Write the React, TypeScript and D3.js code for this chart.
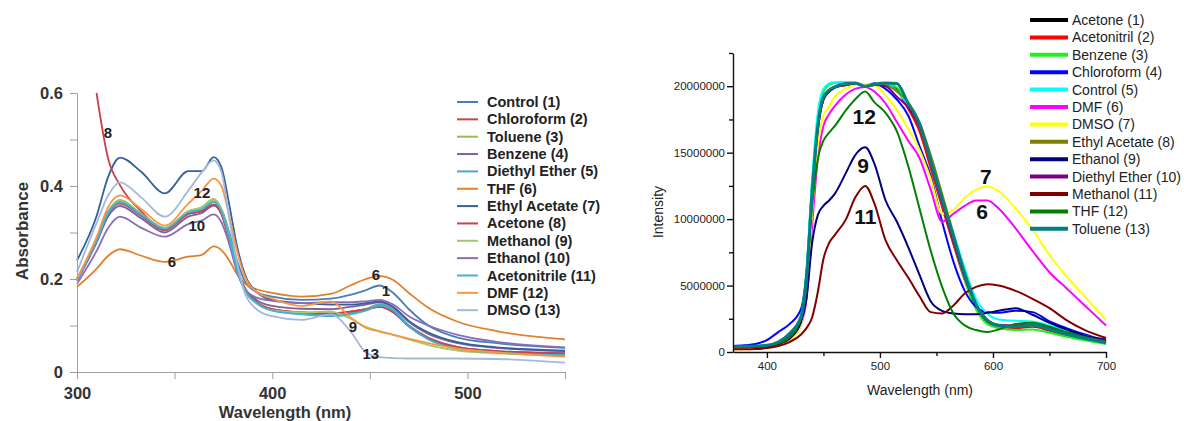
import React, { useEffect, useRef } from "react";
import * as d3 from "d3";

const FONT = "'Liberation Sans', Arial, sans-serif";

// ---------- left panel: absorbance spectra ----------
const ABS_WL = [300, 310, 316, 322, 333, 345, 357, 364, 370, 374, 378, 382, 386, 392, 400, 415, 430, 440, 448, 455, 462, 470, 480, 495, 515, 550];

const ABS_NAMES = ["Control (1)", "Chloroform (2)", "Toluene (3)", "Benzene (4)", "Diethyl Ether (5)", "THF (6)", "Ethyl Acetate (7)", "Acetone (8)", "Methanol (9)", "Ethanol (10)", "Acetonitrile (11)", "DMF (12)", "DMSO (13)"];
const ABS_COLORS = ["#4A7EBB", "#BE4B48", "#98B954", "#7D60A0", "#46AAC5", "#E0802F", "#35609A", "#CC3F4C", "#A5C96A", "#8A6DB4", "#3FB0D8", "#F79646", "#A3B9D9"];

const ABS_CONTROL = [0.2, 0.285, 0.345, 0.366, 0.338, 0.308, 0.342, 0.35, 0.366, 0.35, 0.3, 0.24, 0.195, 0.172, 0.162, 0.155, 0.158, 0.166, 0.176, 0.186, 0.17, 0.135, 0.1, 0.074, 0.062, 0.052];
const ABS_CHLOROFORM = [0.198, 0.28, 0.34, 0.362, 0.335, 0.305, 0.34, 0.346, 0.36, 0.34, 0.285, 0.22, 0.178, 0.15, 0.135, 0.128, 0.125, 0.13, 0.135, 0.14, 0.13, 0.1, 0.074, 0.054, 0.045, 0.04];
const ABS_TOLUENE = [0.2, 0.285, 0.345, 0.37, 0.34, 0.31, 0.345, 0.355, 0.372, 0.35, 0.295, 0.225, 0.18, 0.15, 0.134, 0.126, 0.124, 0.128, 0.136, 0.146, 0.135, 0.1, 0.072, 0.052, 0.044, 0.038];
const ABS_BENZENE = [0.196, 0.278, 0.335, 0.357, 0.33, 0.3, 0.334, 0.342, 0.358, 0.34, 0.285, 0.22, 0.18, 0.155, 0.142, 0.136, 0.135, 0.14, 0.145, 0.15, 0.14, 0.108, 0.082, 0.062, 0.052, 0.045];
const ABS_ETHER = [0.2, 0.283, 0.342, 0.365, 0.338, 0.308, 0.342, 0.35, 0.366, 0.345, 0.29, 0.22, 0.175, 0.148, 0.133, 0.125, 0.122, 0.126, 0.134, 0.145, 0.134, 0.1, 0.073, 0.053, 0.045, 0.04];
const ABS_THF = [0.183, 0.222, 0.25, 0.264, 0.25, 0.237, 0.248, 0.252, 0.27, 0.262, 0.24, 0.21, 0.19, 0.178, 0.17, 0.162, 0.168, 0.186, 0.2, 0.206, 0.198, 0.17, 0.138, 0.108, 0.088, 0.07];
const ABS_ETHYLACETATE = [0.24, 0.335, 0.42, 0.461, 0.43, 0.384, 0.432, 0.432, 0.462, 0.44, 0.36, 0.27, 0.21, 0.172, 0.155, 0.148, 0.145, 0.145, 0.148, 0.152, 0.14, 0.11, 0.085, 0.064, 0.053, 0.046];
const ABS_ACETONE = [null, 0.6, 0.458, 0.402, 0.345, 0.306, 0.34, 0.346, 0.36, 0.34, 0.285, 0.22, 0.178, 0.15, 0.135, 0.128, 0.126, 0.13, 0.134, 0.14, 0.128, 0.098, 0.072, 0.053, 0.045, 0.04];
const ABS_METHANOL = [0.2, 0.285, 0.345, 0.368, 0.34, 0.31, 0.346, 0.354, 0.37, 0.35, 0.29, 0.22, 0.175, 0.148, 0.133, 0.128, 0.13, 0.115, 0.097, 0.088, 0.08, 0.07, 0.058, 0.046, 0.04, 0.035];
const ABS_ETHANOL = [0.19, 0.26, 0.31, 0.334, 0.31, 0.291, 0.318, 0.326, 0.339, 0.322, 0.275, 0.215, 0.178, 0.16, 0.153, 0.148, 0.15, 0.15, 0.152, 0.155, 0.145, 0.12, 0.1, 0.08, 0.065, 0.053];
const ABS_ACETONITRILE = [0.198, 0.283, 0.343, 0.366, 0.338, 0.308, 0.343, 0.35, 0.366, 0.345, 0.29, 0.22, 0.176, 0.148, 0.132, 0.124, 0.12, 0.124, 0.132, 0.143, 0.132, 0.098, 0.07, 0.05, 0.042, 0.036];
const ABS_DMF = [0.2, 0.29, 0.355, 0.38, 0.35, 0.315, 0.362, 0.39, 0.416, 0.4, 0.335, 0.26, 0.205, 0.172, 0.158, 0.142, 0.152, 0.118, 0.095, 0.087, 0.08, 0.072, 0.062, 0.05, 0.042, 0.033];
const ABS_DMSO = [0.215, 0.32, 0.38, 0.408, 0.375, 0.334, 0.39, 0.43, 0.455, 0.43, 0.33, 0.235, 0.17, 0.135, 0.12, 0.112, 0.124, 0.088, 0.042, 0.032, 0.03, 0.029, 0.029, 0.029, 0.028, 0.02];

const ABS_SERIES = [ABS_CONTROL, ABS_CHLOROFORM, ABS_TOLUENE, ABS_BENZENE, ABS_ETHER, ABS_THF, ABS_ETHYLACETATE, ABS_ACETONE, ABS_METHANOL, ABS_ETHANOL, ABS_ACETONITRILE, ABS_DMF, ABS_DMSO];

const ABS_Y_TICKS = [0, 0.1, 0.2, 0.3, 0.4, 0.5, 0.6];
const ABS_X_TICKS = [300, 350, 400, 450, 500, 550];

// curve numbers written on the plot (wavelength, absorbance)
const ABS_NOTES = [
  { t: "8", wl: 315.9, v: 0.514 },
  { t: "12", wl: 364, v: 0.385 },
  { t: "10", wl: 361.4, v: 0.316 },
  { t: "6", wl: 348.6, v: 0.237 },
  { t: "6", wl: 453.1, v: 0.209 },
  { t: "1", wl: 458.2, v: 0.176 },
  { t: "9", wl: 441.3, v: 0.097 },
  { t: "13", wl: 450.5, v: 0.039 },
];

// ---------- right panel: emission spectra (values in millions) ----------
const EM_WL = [370, 380, 390, 400, 410, 420, 430, 435, 440, 445, 450, 455, 460, 470, 478, 487, 495, 505, 515, 525, 535, 545, 555, 565, 575, 585, 595, 605, 620, 635, 650, 665, 680, 700];

const EM_NAMES = ["Acetone (1)", "Acetonitril (2)", "Benzene (3)", "Chloroform (4)", "Control (5)", "DMF (6)", "DMSO (7)", "Ethyl Acetate (8)", "Ethanol (9)", "Diethyl Ether (10)", "Methanol (11)", "THF (12)", "Toluene (13)"];
const EM_COLORS = ["#000000", "#FF0000", "#22EE22", "#0000FF", "#00FFFF", "#FF00FF", "#FFFF00", "#808000", "#000080", "#800080", "#800000", "#008000", "#008080"];

const EM_ACETONE = [0.4, 0.4, 0.42, 0.48, 0.7, 1.3, 2.5, 5.2, 11.8, 16.8, 19.0, 19.6, 19.9, 20.1, 20.2, 20.0, 20.1, 20.1, 19.8, 18.4, 16.8, 14.0, 11.1, 8.3, 5.6, 3.4, 2.3, 1.95, 1.85, 1.95, 1.65, 1.3, 1.0, 0.68];
const EM_ACETONITRIL = [0.38, 0.4, 0.42, 0.46, 0.68, 1.25, 2.4, 5.0, 11.5, 16.6, 19.0, 19.6, 19.9, 20.1, 20.2, 20.0, 20.1, 20.1, 19.7, 18.3, 16.6, 13.8, 10.9, 8.1, 5.4, 3.3, 2.2, 1.9, 1.8, 1.9, 1.6, 1.25, 0.95, 0.65];
const EM_BENZENE = [0.42, 0.44, 0.46, 0.5, 0.72, 1.35, 2.7, 6.0, 12.8, 17.6, 19.6, 20.1, 20.25, 20.3, 20.25, 20.1, 20.2, 20.2, 19.9, 18.6, 17.0, 14.2, 11.2, 8.3, 5.4, 3.2, 2.1, 1.8, 1.65, 1.7, 1.45, 1.15, 0.9, 0.6];
const EM_CHLOROFORM = [0.45, 0.5, 0.6, 0.9, 1.5, 2.1, 3.2, 6.0, 12.5, 17.0, 19.0, 19.6, 19.9, 20.2, 20.2, 20.0, 20.2, 19.8, 19.0, 17.8, 15.5, 13.2, 9.8, 6.8, 4.6, 3.4, 3.0, 2.95, 3.1, 3.0, 2.3, 1.8, 1.35, 0.85];
const EM_CONTROL = [0.35, 0.38, 0.42, 0.48, 0.72, 1.35, 2.7, 6.2, 13.0, 18.0, 19.8, 20.2, 20.3, 20.3, 20.2, 20.0, 20.1, 20.2, 19.6, 18.6, 17.0, 14.8, 11.8, 9.0, 6.3, 4.0, 2.9, 2.45, 2.35, 2.3, 2.0, 1.6, 1.25, 0.85];
const EM_DMF = [0.3, 0.3, 0.32, 0.35, 0.5, 0.9, 2.0, 4.0, 9.5, 14.5, 17.0, 17.9, 18.5, 19.4, 19.8, 19.95, 19.6, 18.7, 17.3, 15.9, 14.6, 12.2, 9.8, 10.4, 11.0, 11.4, 11.4, 10.8, 9.3, 7.6, 6.0, 4.8, 3.6, 2.0];
const EM_DMSO = [0.2, 0.2, 0.25, 0.3, 0.45, 0.85, 2.0, 4.5, 10.5, 15.5, 17.8, 18.5, 19.2, 19.8, 20.1, 20.15, 20.1, 19.3, 18.2, 16.8, 15.2, 13.0, 10.4, 10.7, 11.6, 12.2, 12.45, 12.1, 10.8, 9.2, 7.3, 5.7, 4.3, 2.4];
const EM_ETHYLACETATE = [0.38, 0.4, 0.43, 0.48, 0.7, 1.3, 2.5, 5.3, 11.8, 16.8, 19.1, 19.7, 19.9, 20.1, 20.2, 20.0, 20.1, 20.1, 19.6, 18.8, 17.3, 14.8, 11.9, 8.9, 5.9, 3.6, 2.4, 2.0, 1.9, 2.0, 1.75, 1.4, 1.1, 0.75];
const EM_ETHANOL = [0.35, 0.35, 0.38, 0.42, 0.6, 1.0, 2.2, 4.0, 8.2, 10.3, 11.0, 11.4, 11.9, 13.5, 14.8, 15.4, 14.2, 11.4, 9.8, 7.9, 5.8, 3.8, 3.1, 2.9, 2.85, 2.85, 2.95, 3.1, 3.3, 2.8, 2.2, 1.7, 1.25, 0.95];
const EM_ETHER = [0.38, 0.4, 0.42, 0.47, 0.7, 1.3, 2.5, 5.2, 11.7, 16.7, 19.0, 19.6, 19.9, 20.1, 20.2, 20.0, 20.1, 20.0, 19.2, 18.4, 17.0, 14.2, 11.2, 8.3, 5.6, 3.6, 2.4, 2.05, 2.0, 2.1, 1.8, 1.45, 1.15, 0.85];
const EM_METHANOL = [0.2, 0.2, 0.22, 0.3, 0.45, 0.75, 1.3, 1.8, 2.6, 4.5, 7.0, 8.2, 8.8, 10.0, 11.6, 12.5, 11.2, 8.4, 6.9, 5.6, 4.2, 3.0, 2.9, 3.5, 4.4, 4.9, 5.1, 5.0, 4.6, 4.0, 3.3, 2.4, 1.7, 1.05];
const EM_THF = [0.45, 0.45, 0.45, 0.5, 0.65, 1.1, 2.6, 5.9, 11.0, 14.5, 15.9, 16.5, 17.0, 18.2, 19.0, 19.6, 18.8, 18.0, 16.6, 14.0, 10.8, 7.6, 4.9, 2.9, 2.0, 1.65, 1.5, 1.7, 2.1, 2.2, 1.9, 1.5, 1.15, 0.75];
const EM_TOLUENE = [0.4, 0.42, 0.45, 0.5, 0.75, 1.4, 2.6, 5.5, 12.0, 17.0, 19.2, 19.7, 19.95, 20.2, 20.25, 20.0, 20.15, 20.25, 20.2, 18.7, 17.2, 14.4, 11.5, 8.7, 5.9, 3.6, 2.4, 2.0, 1.9, 2.05, 1.7, 1.35, 1.05, 0.7];

const EM_SERIES = [EM_ACETONE, EM_ACETONITRIL, EM_BENZENE, EM_CHLOROFORM, EM_CONTROL, EM_DMF, EM_DMSO, EM_ETHYLACETATE, EM_ETHANOL, EM_ETHER, EM_METHANOL, EM_THF, EM_TOLUENE];

const EM_Y_MAJOR = [0, 5e6, 10e6, 15e6, 20e6];
const EM_Y_MINOR = [2.5e6, 7.5e6, 12.5e6, 17.5e6, 22.5e6];
const EM_X_MAJOR = [400, 500, 600, 700];
const EM_X_MINOR = [450, 550, 650];

const EM_NOTES = [
  { t: "12", wl: 486.1, v: 17.7 },
  { t: "9", wl: 485.2, v: 14.0 },
  { t: "11", wl: 487, v: 10.2 },
  { t: "7", wl: 593.8, v: 13.2 },
  { t: "6", wl: 590.3, v: 10.6 },
];

const M = 1e6;

const App = () => {
  const width = 1184;
  const height = 421;
  const axesRef = useRef(null);

  const xL = d3.scaleLinear().domain([300, 550]).range([77, 565]);
  const yL = d3.scaleLinear().domain([0, 0.6]).range([372, 93]);
  const xR = d3.scaleLinear().domain([370, 700]).range([733, 1106]);
  const yR = d3.scaleLinear().domain([0, 22.5e6]).range([352, 53]);

  useEffect(() => {
    const svg = d3.select(axesRef.current);
    svg.selectAll("*").remove();

    // left axes
    const ly = svg
      .append("g")
      .attr("transform", `translate(${xL(300)},0)`)
      .call(
        d3.axisLeft(yL).tickValues(ABS_Y_TICKS).tickSize(7).tickSizeOuter(0).tickPadding(7)
          .tickFormat((d) => (Math.round(+d * 10) % 2 === 0 ? d3.format("~g")(d) : ""))
      );
    const lx = svg
      .append("g")
      .attr("transform", `translate(0,${yL(0)})`)
      .call(
        d3.axisBottom(xL).tickValues(ABS_X_TICKS).tickSize(7).tickSizeOuter(0).tickPadding(8)
          .tickFormat((d) => (+d % 100 === 0 ? String(d) : ""))
      );
    [ly, lx].forEach((a) => {
      a.select(".domain").attr("stroke", "#a0a0a0");
      a.selectAll(".tick line").attr("stroke", "#a0a0a0");
      a.selectAll("text").attr("font-family", FONT).attr("font-size", 16.5).attr("font-weight", "bold").attr("fill", "#333");
    });

    // right axes
    const ry = svg
      .append("g")
      .attr("transform", `translate(${xR(370)},0)`)
      .call(d3.axisLeft(yR).tickValues(EM_Y_MAJOR).tickSize(6).tickSizeOuter(0).tickPadding(2).tickFormat(d3.format("d")));
    const ryMinor = svg
      .append("g")
      .attr("transform", `translate(${xR(370)},0)`)
      .call(d3.axisLeft(yR).tickValues(EM_Y_MINOR).tickSize(4).tickFormat(() => ""));
    ryMinor.select(".domain").remove();
    const rx = svg
      .append("g")
      .attr("transform", `translate(0,${yR(0)})`)
      .call(d3.axisBottom(xR).tickValues(EM_X_MAJOR).tickSize(6).tickSizeOuter(0).tickPadding(4).tickFormat(d3.format("d")));
    const rxMinor = svg
      .append("g")
      .attr("transform", `translate(0,${yR(0)})`)
      .call(d3.axisBottom(xR).tickValues(EM_X_MINOR).tickSize(4).tickFormat(() => ""));
    rxMinor.select(".domain").remove();
    [ry, ryMinor, rx, rxMinor].forEach((a) => {
      a.select(".domain").attr("stroke", "#111").attr("stroke-width", 1.4);
      a.selectAll(".tick line").attr("stroke", "#111").attr("stroke-width", 1.4);
      a.selectAll("text").attr("font-family", FONT).attr("font-size", 11.5).attr("fill", "#222");
    });
  }, []);

  const absLine = d3
    .line()
    .defined((v) => v != null)
    .x((_, i) => xL(ABS_WL[i]))
    .y((v) => yL(v))
    .curve(d3.curveMonotoneX);

  const emLine = d3
    .line()
    .x((_, i) => xR(EM_WL[i]))
    .y((v) => yR(v * M))
    .curve(d3.curveMonotoneX);

  return (
    <svg width={width} height={height} style={{ position: "absolute", left: 0, top: 0, background: "#fff" }} fontFamily={FONT}>
      {/* left panel */}
      {ABS_SERIES.map((s, i) => (
        <path key={"a" + i} d={absLine(s)} fill="none" stroke={ABS_COLORS[i]} strokeWidth={1.8} />
      ))}
      {ABS_NOTES.map((n, i) => (
        <text key={"an" + i} x={xL(n.wl)} y={yL(n.v)} textAnchor="middle" dominantBaseline="central" fontSize={15} fontWeight="bold" fill="#222">
          {n.t}
        </text>
      ))}
      <text x={285} y={418} textAnchor="middle" fontSize={16.5} fontWeight="bold" fill="#333">
        Wavelength (nm)
      </text>
      <text transform="translate(28,231) rotate(-90)" textAnchor="middle" fontSize={17} fontWeight="bold" fill="#333">
        Absorbance
      </text>
      {ABS_NAMES.map((name, i) => {
        const y = 102 + i * 17.35;
        return (
          <g key={"al" + i}>
            <line x1={457} x2={478} y1={y} y2={y} stroke={ABS_COLORS[i]} strokeWidth={2} />
            <text x={487} y={y} dominantBaseline="central" fontSize={14.5} fontWeight="bold" fill="#222">
              {name}
            </text>
          </g>
        );
      })}

      {/* right panel */}
      {EM_SERIES.map((s, i) => (
        <path key={"e" + i} d={emLine(s)} fill="none" stroke={EM_COLORS[i]} strokeWidth={i === 12 ? 3 : 2} strokeLinejoin="round" />
      ))}
      {EM_NOTES.map((n, i) => (
        <text key={"en" + i} x={xR(n.wl)} y={yR(n.v * M)} textAnchor="middle" dominantBaseline="central" fontSize={21} fontWeight="bold" fill="#111">
          {n.t}
        </text>
      ))}
      <text x={920} y={395} textAnchor="middle" fontSize={14} fill="#222">
        Wavelength (nm)
      </text>
      <text transform="translate(663,212) rotate(-90)" textAnchor="middle" fontSize={14} fill="#222">
        Intensity
      </text>
      {EM_NAMES.map((name, i) => {
        const y = 20 + i * 17.4;
        return (
          <g key={"el" + i}>
            <line x1={1030} x2={1068} y1={y} y2={y} stroke={EM_COLORS[i]} strokeWidth={4} />
            <text x={1072} y={y} dominantBaseline="central" fontSize={14} fill="#222">
              {name}
            </text>
          </g>
        );
      })}

      <g ref={axesRef} />
    </svg>
  );
};

export default App;
